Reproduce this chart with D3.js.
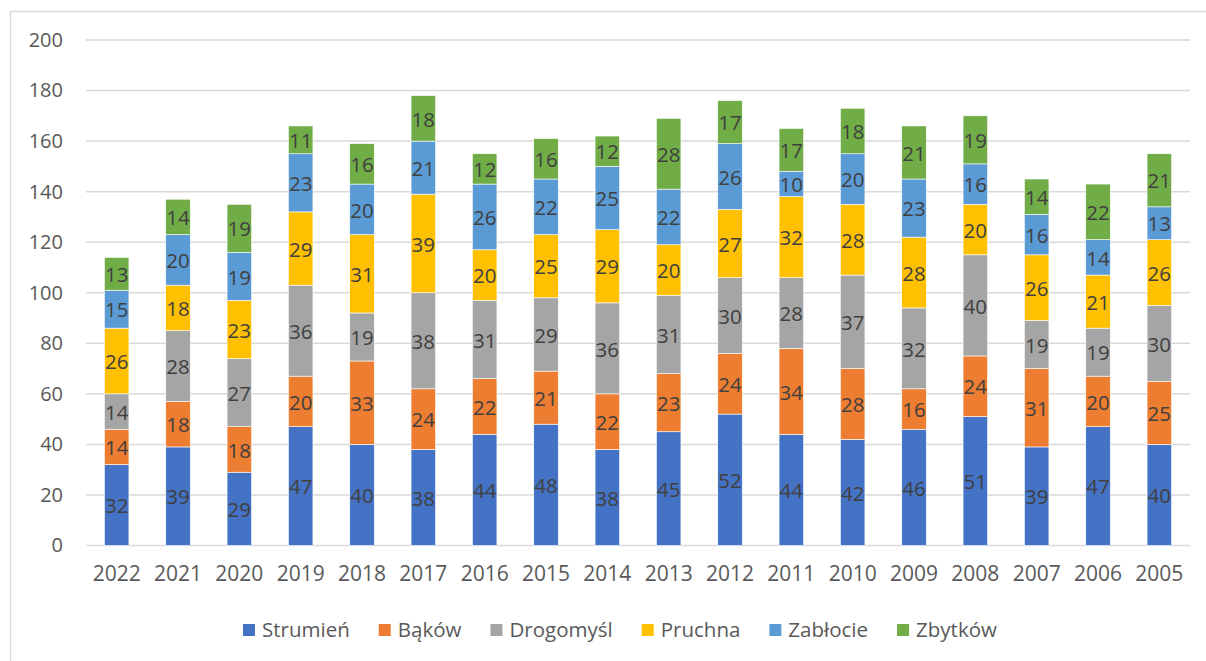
<!DOCTYPE html>
<meta charset="utf-8">
<body style="margin:0;background:#fff">
<div id="chart"></div>
<script src="https://cdn.jsdelivr.net/npm/d3@7"></script>
<script>
  var years = ["2022", "2021", "2020", "2019", "2018", "2017", "2016", "2015", "2014",
    "2013", "2012", "2011", "2010", "2009", "2008", "2007", "2006", "2005"];
  var seriesNames = ["Strumień", "Bąków", "Drogomyśl", "Pruchna", "Zabłocie", "Zbytków"];
  var colors = ["#4472C4", "#ED7D31", "#A5A5A5", "#FFC000", "#5B9BD5", "#70AD47"];

  var strumien  = [32, 39, 29, 47, 40, 38, 44, 48, 38, 45, 52, 44, 42, 46, 51, 39, 47, 40];
  var bakow     = [14, 18, 18, 20, 33, 24, 22, 21, 22, 23, 24, 34, 28, 16, 24, 31, 20, 25];
  var drogomysl = [14, 28, 27, 36, 19, 38, 31, 29, 36, 31, 30, 28, 37, 32, 40, 19, 19, 30];
  var pruchna   = [26, 18, 23, 29, 31, 39, 20, 25, 29, 20, 27, 32, 28, 28, 20, 26, 21, 26];
  var zablocie  = [15, 20, 19, 23, 20, 21, 26, 22, 25, 22, 26, 10, 20, 23, 16, 16, 14, 13];
  var zbytkow   = [13, 14, 19, 11, 16, 18, 12, 16, 12, 28, 17, 17, 18, 21, 19, 14, 22, 21];
  var yTicks = [0, 20, 40, 60, 80, 100, 120, 140, 160, 180, 200];

  var seriesValues = [strumien, bakow, drogomysl, pruchna, zablocie, zbytkow];

  var W = 1206, H = 661;
  var margin = {left: 86, right: 16, top: 40, bottom: 116};
  var font = "'Open Sans', sans-serif";

  var svg = d3.select("#chart").append("svg")
    .attr("width", W).attr("height", H)
    .style("font-family", font);

  // chart border (cut off on the right and bottom)
  svg.append("rect")
    .attr("x", 10.5).attr("y", 11.5)
    .attr("width", 1400).attr("height", 1000)
    .attr("fill", "none").attr("stroke", "#d9d9d9").attr("stroke-width", 1.5);

  var table = years.map(function(y, i) {
    var row = {year: y};
    seriesNames.forEach(function(s, j) { row[s] = seriesValues[j][i]; });
    return row;
  });

  var stack = d3.stack().keys(seriesNames)(table);

  var x = d3.scaleBand().domain(years)
    .range([margin.left, W - margin.right])
    .paddingInner(0.6).paddingOuter(0.3);

  var y = d3.scaleLinear().domain([0, 200])
    .range([H - margin.bottom + 0.5, margin.top]);

  // gridlines
  svg.append("g").selectAll("line")
    .data(yTicks).enter().append("line")
    .attr("x1", margin.left).attr("x2", W - margin.right)
    .attr("y1", function(d) { return y(d); })
    .attr("y2", function(d) { return y(d); })
    .attr("stroke", "#d9d9d9").attr("stroke-width", 1.5);

  // y axis labels
  var yAxis = d3.axisLeft(y).tickValues(yTicks).tickSize(0).tickPadding(23);
  var gy = svg.append("g").attr("transform", "translate(" + margin.left + ",0)").call(yAxis);
  gy.select(".domain").remove();
  gy.selectAll("text").attr("fill", "#595959").style("font-size", "20px").style("font-family", font);

  // x axis labels
  var xAxis = d3.axisBottom(x).tickSize(0).tickPadding(21);
  var gx = svg.append("g").attr("transform", "translate(0," + y(0) + ")").call(xAxis);
  gx.select(".domain").remove();
  gx.selectAll("text").attr("fill", "#595959").style("font-size", "21px").style("font-family", font);

  // bars
  var layers = svg.append("g").selectAll("g")
    .data(stack).enter().append("g")
    .attr("fill", function(d, i) { return colors[i]; });

  layers.selectAll("rect")
    .data(function(d) { return d; }).enter().append("rect")
    .attr("x", function(d) { return x(d.data.year); })
    .attr("width", x.bandwidth())
    .attr("y", function(d) { return y(d[1]); })
    .attr("height", function(d) { return y(d[0]) - y(d[1]); })
    .attr("stroke", "#ffffff").attr("stroke-width", 0.6);

  // data labels
  layers.selectAll("text")
    .data(function(d) { return d; }).enter().append("text")
    .attr("x", function(d) { return x(d.data.year) + x.bandwidth() / 2; })
    .attr("y", function(d) { return y((d[0] + d[1]) / 2); })
    .attr("dy", "0.4em")
    .attr("text-anchor", "middle")
    .attr("fill", "#404040")
    .style("font-size", "20.5px")
    .text(function(d) { return d[1] - d[0]; });

  // legend
  var legend = svg.append("g").attr("transform", "translate(0,630)");
  var items = legend.selectAll("g").data(seriesNames).enter().append("g");
  items.append("rect")
    .attr("width", 12).attr("height", 12).attr("y", -6)
    .attr("fill", function(d, i) { return colors[i]; });
  items.append("text")
    .attr("x", 19).attr("dy", "0.36em")
    .attr("fill", "#595959").style("font-size", "20.5px")
    .text(function(d) { return d; });

  var gap = 29, pos = 0, offsets = [];
  items.each(function() {
    offsets.push(pos);
    pos += this.getBBox().width + gap;
  });
  var total = pos - gap;
  var start = 620 - total / 2;
  items.attr("transform", function(d, i) { return "translate(" + (start + offsets[i]) + ",0)"; });
</script>
</body>
